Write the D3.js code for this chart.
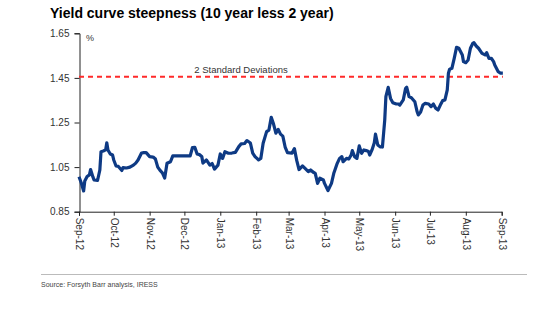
<!DOCTYPE html>
<html>
<head>
<meta charset="utf-8">
<script src="https://cdn.jsdelivr.net/npm/d3@7"></script>
<style>
  body { margin: 0; background: #fff; }
  svg { display: block; font-family: "Liberation Sans", Arial, sans-serif; }
</style>
</head>
<body>
<svg id="chart" width="550" height="326"></svg>
<script>
// Spread between 10-year and 2-year yields (%)
const dates = [
  "2012-09-01","2012-09-03","2012-09-05","2012-09-06","2012-09-08","2012-09-10","2012-09-11","2012-09-13",
  "2012-09-14","2012-09-17","2012-09-19","2012-09-20","2012-09-22","2012-09-24","2012-09-25","2012-09-26",
  "2012-09-28","2012-09-30","2012-10-01","2012-10-03","2012-10-05","2012-10-08","2012-10-09","2012-10-12",
  "2012-10-15","2012-10-18","2012-10-20","2012-10-22","2012-10-25","2012-10-27","2012-10-29","2012-11-01",
  "2012-11-04","2012-11-06","2012-11-08","2012-11-10","2012-11-12","2012-11-14","2012-11-16","2012-11-19",
  "2012-11-21","2012-11-26","2012-11-30","2012-12-06","2012-12-08","2012-12-10","2012-12-12","2012-12-14",
  "2012-12-16","2012-12-17","2012-12-20","2012-12-23","2012-12-25","2012-12-27","2012-12-30","2013-01-01",
  "2013-01-03","2013-01-05","2013-01-08","2013-01-11","2013-01-14","2013-01-17","2013-01-19","2013-01-22",
  "2013-01-24","2013-01-27","2013-01-29","2013-01-31","2013-02-03","2013-02-05","2013-02-07","2013-02-10",
  "2013-02-12","2013-02-14","2013-02-16","2013-02-18","2013-02-20","2013-02-22","2013-02-24","2013-02-26",
  "2013-02-28","2013-03-04","2013-03-06","2013-03-08","2013-03-10","2013-03-13","2013-03-15","2013-03-18",
  "2013-03-20","2013-03-22","2013-03-24","2013-03-26","2013-03-28","2013-03-31","2013-04-01","2013-04-04",
  "2013-04-07","2013-04-09","2013-04-10","2013-04-12","2013-04-14","2013-04-16","2013-04-17","2013-04-20",
  "2013-04-22","2013-04-24","2013-04-25","2013-04-27","2013-04-29","2013-05-01","2013-05-03","2013-05-05",
  "2013-05-07","2013-05-09","2013-05-10","2013-05-12","2013-05-14","2013-05-15","2013-05-17","2013-05-19",
  "2013-05-21","2013-05-23","2013-05-24","2013-05-26","2013-05-28","2013-05-30","2013-06-02","2013-06-04",
  "2013-06-05","2013-06-08","2013-06-10","2013-06-11","2013-06-13","2013-06-15","2013-06-18","2013-06-20",
  "2013-06-21","2013-06-23","2013-06-25","2013-06-27","2013-06-30","2013-07-02","2013-07-04","2013-07-06",
  "2013-07-08","2013-07-10","2013-07-12","2013-07-14","2013-07-16","2013-07-17","2013-07-18","2013-07-20",
  "2013-07-22","2013-07-24","2013-07-26","2013-07-29","2013-07-30","2013-08-01","2013-08-03","2013-08-05",
  "2013-08-07","2013-08-08","2013-08-10","2013-08-12","2013-08-15","2013-08-18","2013-08-19","2013-08-21",
  "2013-08-23","2013-08-25","2013-08-26","2013-08-29","2013-08-31","2013-09-02"
];
const values = [
  1.007,0.979,0.943,0.988,1.008,1.015,1.039,1.006,
  0.992,0.990,1.037,1.119,1.122,1.127,1.159,1.127,
  1.109,1.104,1.082,1.055,1.053,1.035,1.048,1.046,
  1.050,1.059,1.068,1.082,1.113,1.115,1.115,1.097,
  1.095,1.086,1.050,1.035,1.024,1.001,1.067,1.074,
  1.100,1.100,1.100,1.100,1.138,1.139,1.109,1.106,
  1.098,1.068,1.082,1.059,1.066,1.041,1.059,1.109,
  1.089,1.119,1.112,1.113,1.116,1.142,1.154,1.156,
  1.169,1.158,1.113,1.097,1.082,1.089,1.157,1.209,
  1.216,1.273,1.243,1.202,1.219,1.198,1.189,1.140,
  1.115,1.113,1.133,1.080,1.039,1.055,1.045,1.030,
  1.037,1.028,1.022,0.977,1.000,0.992,0.977,0.945,
  0.977,1.022,1.037,1.067,1.089,1.097,1.074,1.089,
  1.086,1.104,1.124,1.097,1.089,1.145,1.112,1.127,
  1.124,1.120,1.104,1.127,1.159,1.198,1.149,1.141,
  1.140,1.261,1.366,1.408,1.358,1.339,1.333,1.333,
  1.328,1.351,1.403,1.408,1.366,1.361,1.343,1.298,
  1.284,1.297,1.328,1.336,1.333,1.321,1.333,1.314,
  1.306,1.328,1.348,1.351,1.396,1.471,1.489,1.493,
  1.538,1.587,1.583,1.553,1.523,1.518,1.530,1.583,
  1.605,1.608,1.593,1.583,1.560,1.553,1.563,1.538,
  1.538,1.523,1.508,1.478,1.471,1.471
];
const yTicks = [0.85, 1.05, 1.25, 1.45, 1.65];
const monthLabels = ["Sep-12","Oct-12","Nov-12","Dec-12","Jan-13","Feb-13","Mar-13",
                     "Apr-13","May-13","Jun-13","Jul-13","Aug-13","Sep-13"];
const bandValue = 1.455;
const bandLabel = "2 Standard Deviations";

const parse = d3.timeParse("%Y-%m-%d");
const series = dates.map((d, i) => ({ date: parse(d), value: values[i] }));
const monthDates = d3.timeMonth.range(new Date(2012, 8, 1), new Date(2013, 9, 1));

const svg = d3.select("#chart");

const x = d3.scaleTime()
  .domain([new Date(2012, 8, 1), new Date(2013, 8, 1)])
  .range([79, 501.7]);
const y = d3.scaleLinear()
  .domain([0.85, 1.65])
  .range([211.7, 33.3]);

// Title
svg.append("text")
  .attr("x", 50).attr("y", 18)
  .attr("font-size", 14).attr("font-weight", "bold").attr("fill", "#000")
  .text("Yield curve steepness (10 year less 2 year)");

// Y axis
const yAxis = svg.append("g")
  .attr("transform", "translate(79.5,0)")
  .call(d3.axisLeft(y).tickValues(yTicks).tickFormat(d3.format(".2f")).tickSize(5).tickPadding(5));
yAxis.select(".domain").attr("stroke", "#222");
yAxis.selectAll(".tick line").attr("stroke", "#222");
yAxis.selectAll(".tick text").attr("font-size", 10).attr("fill", "#333")
  .attr("font-family", "'Liberation Sans', Arial, sans-serif");

svg.append("text")
  .attr("x", 86).attr("y", 41)
  .attr("font-size", 9).attr("fill", "#333")
  .text("%");

// X axis with rotated month labels
const xAxis = svg.append("g")
  .attr("transform", "translate(0,211.7)")
  .call(d3.axisBottom(x).tickValues(monthDates).tickSize(4)
    .tickFormat((d, i) => monthLabels[i]));
xAxis.select(".domain").attr("stroke", "#222");
xAxis.selectAll(".tick line").attr("stroke", "#222");
xAxis.selectAll(".tick text")
  .attr("font-size", 10).attr("fill", "#333")
  .attr("font-family", "'Liberation Sans', Arial, sans-serif")
  .attr("transform", "rotate(90)")
  .attr("text-anchor", "start")
  .attr("x", 6).attr("y", 0).attr("dy", "0.35em");

// Two standard deviation threshold
svg.append("line")
  .attr("x1", x(new Date(2012, 8, 1))).attr("x2", x(series[series.length - 1].date))
  .attr("y1", y(bandValue)).attr("y2", y(bandValue))
  .attr("stroke", "#ff2a2a").attr("stroke-width", 2).attr("stroke-dasharray", "5,4");
svg.append("text")
  .attr("x", 241).attr("y", 72.5)
  .attr("text-anchor", "middle")
  .attr("font-size", 9.5).attr("fill", "#333")
  .text(bandLabel);

// Spread line
svg.append("path")
  .datum(series)
  .attr("fill", "none")
  .attr("stroke", "#0e3a84")
  .attr("stroke-width", 3.2)
  .attr("stroke-linejoin", "round")
  .attr("d", d3.line().x(d => x(d.date)).y(d => y(d.value)));

// Footer
svg.append("line")
  .attr("x1", 41).attr("x2", 527).attr("y1", 274.5).attr("y2", 274.5)
  .attr("stroke", "#bbb").attr("stroke-width", 1);
svg.append("text")
  .attr("x", 41).attr("y", 287)
  .attr("font-size", 7).attr("fill", "#444")
  .text("Source: Forsyth Barr analysis, IRESS");
</script>
</body>
</html>
